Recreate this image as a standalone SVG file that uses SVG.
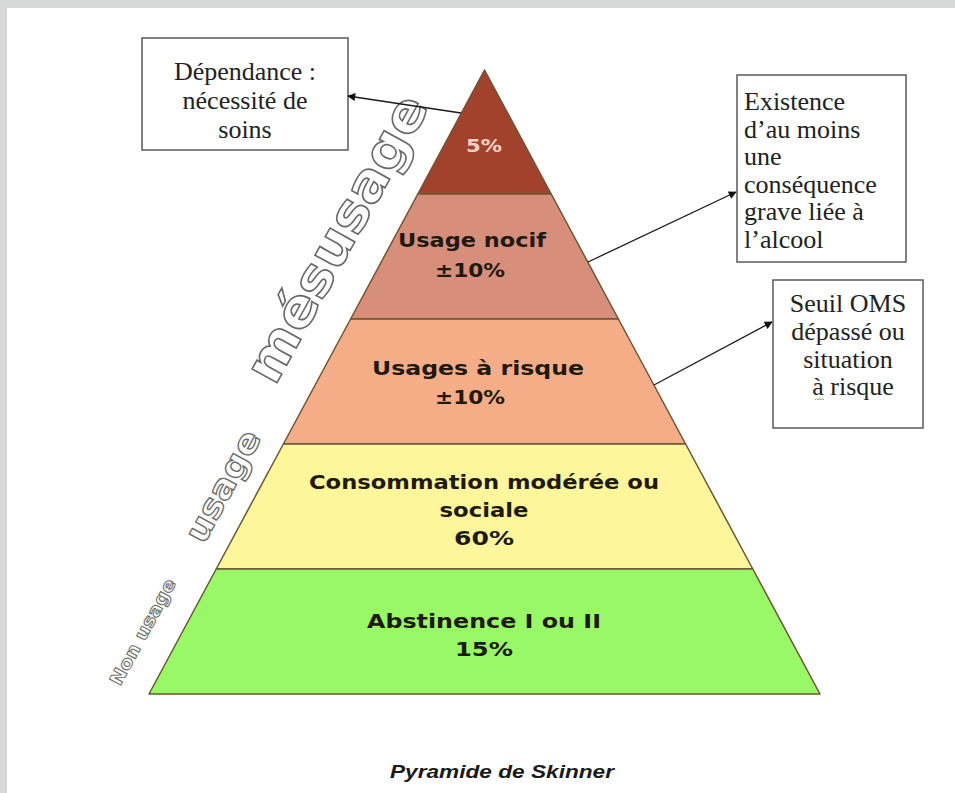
<svg xmlns="http://www.w3.org/2000/svg" width="955" height="793" viewBox="0 0 955 793">
<defs>
<marker id="ah" viewBox="0 0 10 10" refX="9" refY="5" markerWidth="10" markerHeight="8" markerUnits="userSpaceOnUse" orient="auto">
<path d="M0,0 L10,5 L0,10 z" fill="#111"/>
</marker>
</defs>
<style>
.band{stroke:#6b5535;stroke-width:1.5;stroke-linejoin:round}
.lbl{font-family:"DejaVu Sans",Verdana,sans-serif;font-weight:bold;font-size:20px;fill:#1f1a10;text-anchor:middle}
.box{fill:#fff;stroke:#5a5a5a;stroke-width:1.5}
.serif{font-family:"Liberation Serif","Times New Roman",serif;font-size:26px;fill:#222}
.out{font-family:"DejaVu Sans",sans-serif;font-weight:bold;fill:#fff;stroke:#6a6a6a;text-anchor:middle}
.conn{stroke:#1a1a1a;stroke-width:1.3;fill:none}
</style>
<rect x="0" y="0" width="955" height="793" fill="#d6d9d8"/>
<rect x="7" y="8" width="948" height="785" fill="#ffffff"/>

<g id="pyramid">
<g id="band-dependance">
<polygon class="band" points="484.5,70 551.2,194 417.8,194" fill="#a3422c"/>
<text x="484" y="152" font-family="'DejaVu Sans',sans-serif" font-size="18" font-weight="bold" fill="#f4d3c5" text-anchor="middle" textLength="36" lengthAdjust="spacingAndGlyphs">5%</text>
</g>
<g id="band-nocif">
<polygon class="band" points="417.8,194 551.2,194 618.4,319 350.6,319" fill="#d78e7b"/>
<text class="lbl" x="472" y="247" textLength="148" lengthAdjust="spacingAndGlyphs">Usage nocif</text>
<text class="lbl" x="470" y="277" textLength="70" lengthAdjust="spacingAndGlyphs">±10%</text>
</g>
<g id="band-risque">
<polygon class="band" points="350.6,319 618.4,319 685.6,444 283.4,444" fill="#f5ad87"/>
<text class="lbl" x="478" y="375" textLength="212" lengthAdjust="spacingAndGlyphs">Usages à risque</text>
<text class="lbl" x="470" y="404" textLength="70" lengthAdjust="spacingAndGlyphs">±10%</text>
</g>
<g id="band-moderee">
<polygon class="band" points="283.4,444 685.6,444 752.8,569 216.2,569" fill="#fdf69b"/>
<text class="lbl" x="484" y="489" textLength="350" lengthAdjust="spacingAndGlyphs">Consommation modérée ou</text>
<text class="lbl" x="484" y="517" textLength="89" lengthAdjust="spacingAndGlyphs">sociale</text>
<text class="lbl" x="484" y="545" textLength="60" lengthAdjust="spacingAndGlyphs">60%</text>
</g>
<g id="band-abstinence">
<polygon class="band" points="216.2,569 752.8,569 820,694 149,694" fill="#98f866"/>
<text class="lbl" x="484" y="628" textLength="234" lengthAdjust="spacingAndGlyphs">Abstinence I ou II</text>
<text class="lbl" x="484" y="656" textLength="58" lengthAdjust="spacingAndGlyphs">15%</text>
</g>
</g>

<g id="side-labels">
<text class="out" transform="translate(143,632) rotate(-61.5)" y="6" font-size="18" stroke-width="1" textLength="118" lengthAdjust="spacingAndGlyphs">Non usage</text>
<text class="out" transform="translate(225,487) rotate(-61.5)" y="9" font-size="33" stroke-width="1.3" textLength="122" lengthAdjust="spacingAndGlyphs">usage</text>
<text class="out" transform="translate(340,240) rotate(-61)" y="14" font-size="52" stroke-width="1.6" textLength="320" lengthAdjust="spacingAndGlyphs">mésusage</text>
</g>

<g id="box-dependance">
<rect class="box" x="142" y="38" width="206" height="112"/>
<text class="serif" text-anchor="middle"><tspan x="245" y="80">Dépendance :</tspan><tspan x="245" y="109">nécessité de</tspan><tspan x="245" y="138">soins</tspan></text>
</g>

<g id="box-consequence">
<rect class="box" x="737" y="75" width="169" height="187"/>
<text class="serif"><tspan x="744" y="110">Existence</tspan><tspan x="744" y="137.5">d’au moins</tspan><tspan x="744" y="165">une</tspan><tspan x="744" y="192.5">conséquence</tspan><tspan x="744" y="220">grave liée à</tspan><tspan x="744" y="247.5">l’alcool</tspan></text>
</g>

<g id="box-seuil">
<rect class="box" x="773" y="280" width="150" height="148"/>
<text class="serif" font-size="25" text-anchor="middle"><tspan x="848" y="312">Seuil OMS</tspan><tspan x="848" y="340">dépassé ou</tspan><tspan x="848" y="368">situation</tspan><tspan x="853" y="395">à risque</tspan></text>
<path d="M815,400 l1.5,-1.5 l1.5,1.5 l1.5,-1.5 l1.5,1.5 l1.5,-1.5 l1.5,1.5" fill="none" stroke="#6a9a50" stroke-width="0.8"/>
</g>

<g id="connectors">
<line class="conn" x1="461" y1="113" x2="348" y2="96" marker-end="url(#ah)"/>
<line class="conn" x1="588" y1="262" x2="736" y2="192" marker-end="url(#ah)"/>
<line class="conn" x1="654" y1="385" x2="772" y2="322" marker-end="url(#ah)"/>
</g>

<text x="502" y="778" font-family="'Liberation Sans',Arial,sans-serif" font-weight="bold" font-style="italic" font-size="19" fill="#1a1a1a" text-anchor="middle" textLength="224" lengthAdjust="spacingAndGlyphs">Pyramide de Skinner</text>
</svg>
